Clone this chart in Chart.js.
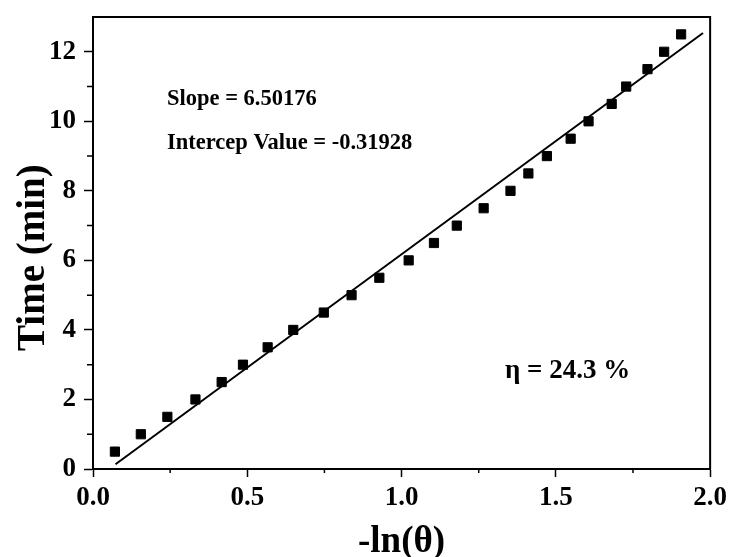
<!DOCTYPE html>
<html>
<head>
<meta charset="utf-8">
<script src="https://cdn.jsdelivr.net/npm/chart.js@4.4.1/dist/chart.umd.min.js"></script>
<style>
 html,body{margin:0;padding:0;background:#fff;}
 #wrap{width:732px;height:557px;position:relative;}
</style>
</head>
<body>
<div id="wrap"><canvas id="c"></canvas></div>
<script>
// DATA
const lnTheta = [0.071,0.155,0.241,0.332,0.417,0.486,0.566,0.649,0.748,0.838,0.928,1.023,1.105,1.179,1.266,1.353,1.411,1.471,1.548,1.606,1.681,1.728,1.797,1.851,1.906];
const timeMin = [0.5,1.0,1.5,2.0,2.5,3.0,3.5,4.0,4.5,5.0,5.5,6.0,6.5,7.0,7.5,8.0,8.5,9.0,9.5,10.0,10.5,11.0,11.5,12.0,12.5];
const fitX = [0.073,1.977];
const fitY = [0.135,12.54];
const xTicks = [0,0.5,1.0,1.5,2.0];
const xMinor = [0.25,0.75,1.25,1.75];
const yTicks = [0,2,4,6,8,10,12];
const yMinor = [1,3,5,7,9,11];

const FONT = '"Liberation Serif","Times New Roman",serif';

// minor ticks + frame
const axisExtras = {
  id:'axisExtras',
  afterDraw(chart){
    const {ctx, chartArea:a, scales:{x,y}} = chart;
    ctx.save();
    ctx.strokeStyle='#000';
    ctx.lineWidth=1.5;
    ctx.beginPath();
    xMinor.forEach(v=>{
      let px=x.getPixelForValue(v);
      ctx.moveTo(px,a.bottom); ctx.lineTo(px,a.bottom+4);
    });
    yMinor.forEach(v=>{
      let py=y.getPixelForValue(v);
      ctx.moveTo(a.left,py); ctx.lineTo(a.left-6,py);
    });
    ctx.stroke();
    ctx.lineWidth=2;
    ctx.beginPath();
    ctx.moveTo(a.left,a.top); ctx.lineTo(a.right,a.top); ctx.lineTo(a.right,a.bottom);
    ctx.stroke();

    // TEXT
    ctx.fillStyle='#000';
    ctx.textBaseline='middle';
    ctx.textAlign='left';
    ctx.font='bold 22.5px '+FONT;
    ctx.fillText('Slope = 6.50176', 167, 99);
    ctx.fillText('Intercep Value = -0.31928', 167, 143);
    ctx.font='bold 27px '+FONT;
    ctx.fillText('\u03b7 = 24.3 %', 505, 371);
    ctx.restore();
  }
};

window.onload = function(){
  new Chart(document.getElementById('c'),{
    type:'scatter',
    data:{
      datasets:[
        {
          label:'fit',
          data:fitX.map((v,i)=>({x:v,y:fitY[i]})),
          showLine:true,
          borderColor:'#000',
          borderWidth:2,
          pointRadius:0,
          order:2
        },
        {
          label:'Time',
          data:lnTheta.map((v,i)=>({x:v,y:timeMin[i]})),
          pointStyle:'rect',
          pointRadius:6.5,
          pointBackgroundColor:'#000',
          pointBorderColor:'#000',
          pointBorderWidth:1,
          showLine:false,
          order:1
        }
      ]
    },
    options:{
      responsive:true,
      maintainAspectRatio:false,
      animation:false,
      layout:{padding:{top:17,right:19,left:0,bottom:0}},
      plugins:{legend:{display:false},tooltip:{enabled:false}},
      scales:{
        x:{
          type:'linear',
          min:0,max:2,
          afterFit:s=>{s.height=88;},
          afterBuildTicks:s=>{s.ticks=xTicks.map(v=>({value:v}));},
          border:{display:true,color:'#000',width:2},
          grid:{drawOnChartArea:false,drawTicks:true,tickLength:8,tickColor:'#000',tickWidth:1.5},
          ticks:{
            color:'#000',padding:5,
            font:{family:FONT,size:27,weight:'bold',lineHeight:1.2},
            callback:v=>Number(v).toFixed(1)
          },
          title:{display:true,text:'-ln(\u03b8)',color:'#000',
            font:{family:FONT,size:37,weight:'bold',lineHeight:0.8},
            padding:{top:0,bottom:0}}
        },
        y:{
          type:'linear',
          min:0,max:13,
          afterFit:s=>{s.width=93; s.paddingTop=0; s.paddingBottom=0;},
          afterBuildTicks:s=>{s.ticks=yTicks.map(v=>({value:v}));},
          border:{display:true,color:'#000',width:2},
          grid:{drawOnChartArea:false,drawTicks:true,tickLength:9,tickColor:'#000',tickWidth:1.5},
          ticks:{
            color:'#000',padding:8,
            font:{family:FONT,size:27,weight:'bold'},
            callback:v=>String(v)
          },
          title:{display:true,text:'Time (min)   ',color:'#000',
            font:{family:FONT,size:39,weight:'bold',lineHeight:1},
            padding:{top:14,bottom:0}}
        }
      }
    },
    plugins:[axisExtras]
  });
};
</script>
</body>
</html>
